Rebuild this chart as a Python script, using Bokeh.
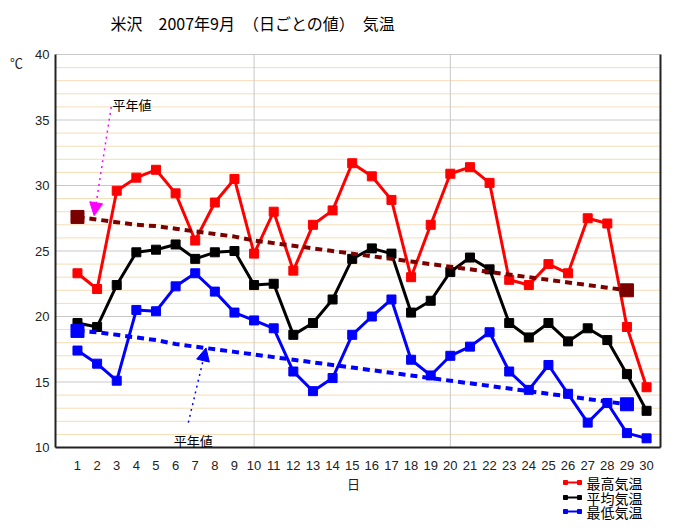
from bokeh.plotting import figure
from bokeh.models import Range1d, Label, Arrow, NormalHead
from bokeh.core.properties import value
from bokeh.embed import file_html
from bokeh.resources import INLINE

# ---- data ----
days = list(range(1, 31))
t_max = [23.3, 22.1, 29.6, 30.6, 31.2, 29.4, 25.8, 28.7, 30.5, 24.8,
         28.0, 23.5, 27.0, 28.1, 31.7, 30.7, 28.9, 23.0, 27.0, 30.9,
         31.4, 30.2, 22.8, 22.4, 24.0, 23.3, 27.5, 27.1, 19.2, 14.6]
t_avg = [19.5, 19.2, 22.4, 24.9, 25.1, 25.5, 24.4, 24.9, 25.0, 22.4,
         22.5, 18.6, 19.5, 21.3, 24.4, 25.2, 24.8, 20.3, 21.2, 23.4,
         24.5, 23.6, 19.5, 18.4, 19.5, 18.1, 19.1, 18.2, 15.6, 12.8]
t_min = [17.4, 16.4, 15.1, 20.5, 20.4, 22.3, 23.3, 21.9, 20.3, 19.7,
         19.1, 15.8, 14.3, 15.3, 18.6, 20.0, 21.3, 16.7, 15.5, 17.0,
         17.7, 18.8, 15.8, 14.4, 16.3, 14.1, 11.9, 13.4, 11.1, 10.7]
normal_days = list(range(1, 30))
normal_max = [27.6, 27.4, 27.2, 27.0, 26.9, 26.7, 26.5, 26.3, 26.1, 25.8,
              25.6, 25.4, 25.2, 25.0, 24.8, 24.6, 24.4, 24.2, 24.0, 23.8,
              23.6, 23.4, 23.2, 23.0, 22.8, 22.6, 22.4, 22.2, 22.0]
normal_min = [18.9, 18.8, 18.6, 18.4, 18.2, 17.9, 17.7, 17.5, 17.3, 17.1,
              16.9, 16.7, 16.5, 16.3, 16.1, 15.9, 15.7, 15.5, 15.3, 15.1,
              14.9, 14.7, 14.5, 14.3, 14.1, 13.9, 13.7, 13.5, 13.3]
y_ticks = [10, 15, 20, 25, 30, 35, 40]
y_minor = [v for v in range(11, 40) if v % 5 != 0]
x_grid = [10, 20]
series_names = ["最高気温", "平均気温", "最低気温"]
series_colors = ["#FF0000", "#000000", "#0000FF"]
title_text = "米沢　2007年9月　（日ごとの値）　気温"

FONT = "Noto Sans CJK JP"
NUMFONT = "Liberation Sans"

# plot-area extent (data units) and its pixel box on the 682x531 canvas
X0, X1, Y0, Y1 = -0.12, 30.71, 10, 40
PL, PR, PT, PB = 55, 660, 54, 447
W, H = 682, 531
PPX = (PR - PL) / (X1 - X0)
PPY = (PB - PT) / (Y1 - Y0)
xr = Range1d(X0 - PL / PPX, X1 + (W - PR) / PPX)
yr = Range1d(Y0 - (H - PB) / PPY, Y1 + PT / PPY)


def px_x(px):
    return xr.start + px / PPX


def px_y(py):
    return yr.end - py / PPY


p = figure(width=W, height=H, x_range=xr, y_range=yr,
           output_backend="svg", toolbar_location=None,
           x_axis_location=None, y_axis_location=None,
           min_border=0, background_fill_color="white",
           border_fill_color="white", outline_line_color=None)
p.grid.visible = False

# grid lines
p.segment(x0=[X0] * len(y_minor), x1=[X1] * len(y_minor), y0=y_minor, y1=y_minor,
          line_color="#F5DDB5", line_width=1)
p.segment(x0=[X0] * len(y_ticks), x1=[X1] * len(y_ticks), y0=y_ticks, y1=y_ticks,
          line_color="#C8C8C8", line_width=1)
p.segment(x0=x_grid, x1=x_grid, y0=[Y0] * len(x_grid), y1=[Y1] * len(x_grid),
          line_color="#C8C8C8", line_width=1)

# frame borders (left, bottom, right)
p.segment(x0=[X0, X0, X1], x1=[X0, X1, X1], y0=[Y0, Y0, Y0], y1=[Y1, Y0, Y1],
          line_color="#222222", line_width=2)

# series
for vals, col in zip([t_max, t_avg, t_min], series_colors):
    p.line(days, vals, line_color=col, line_width=3)
    p.scatter(days, vals, marker="square", size=9, color=col)

# normals
p.line(normal_days, normal_max, line_color="#7B0000", line_width=4, line_dash="7 5")
p.scatter([normal_days[0], normal_days[-1]], [normal_max[0], normal_max[-1]],
          marker="square", size=13, color="#7B0000")
p.line(normal_days, normal_min, line_color="#0000FF", line_width=4, line_dash="7 5")
p.scatter([normal_days[0], normal_days[-1]], [normal_min[0], normal_min[-1]],
          marker="square", size=13, color="#0000FF")

# x tick labels
p.text(x=days, y=[px_y(465)] * len(days), text=[str(d) for d in days],
       text_align="center", text_baseline="middle",
       text_font=value(NUMFONT), text_font_size="13px", text_color="#222222")
# y tick labels (bottom on the grid line)
p.text(x=[px_x(49)] * len(y_ticks), y=y_ticks, text=[str(v) for v in y_ticks],
       text_align="right", text_baseline="alphabetic",
       text_font=value(NUMFONT), text_font_size="13px", text_color="#222222")

# axis titles and chart title
p.add_layout(Label(x=px_x(353), y=px_y(483), text="日", text_align="center",
                   text_baseline="middle", text_font=FONT, text_font_size="13px",
                   text_color="#222222"))
p.add_layout(Label(x=px_x(16), y=px_y(62), text="℃", text_align="center",
                   text_baseline="middle", text_font=FONT, text_font_size="13px",
                   text_color="#222222"))
p.add_layout(Label(x=px_x(110), y=px_y(22), text=title_text, text_align="left",
                   text_baseline="middle", text_font=FONT, text_font_size="16px",
                   text_color="black"))

# annotations
p.add_layout(Arrow(end=NormalHead(size=13, fill_color="#FF00FF", line_color="#FF00FF"),
                   x_start=2.72, y_start=36.0, x_end=1.85, y_end=27.7,
                   line_color="#FF00FF", line_dash="dotted", line_width=1.5))
p.add_layout(Label(x=2.78, y=36.2, text="平年値", text_baseline="middle",
                   text_align="left", text_font=FONT, text_font_size="13px",
                   text_color="black"))
p.add_layout(Arrow(end=NormalHead(size=13, fill_color="#0000FF", line_color="#0000FF"),
                   x_start=6.65, y_start=11.9, x_end=7.55, y_end=17.6,
                   line_color="#0000FF", line_dash="dotted", line_width=1.5))
p.add_layout(Label(x=5.9, y=10.5, text="平年値", text_baseline="middle",
                   text_align="left", text_font=FONT, text_font_size="13px",
                   text_color="black"))

# legend (below the plot area, right side), drawn by hand
leg_rows = [px_y(482), px_y(497), px_y(511)]
lx0, lx1 = px_x(565), px_x(579)
p.segment(x0=[lx0] * 3, x1=[lx1] * 3, y0=leg_rows, y1=leg_rows,
          line_color=series_colors, line_width=2)
p.scatter(x=[lx0] * 3 + [lx1] * 3, y=leg_rows * 2, marker="square", size=4,
          color=series_colors * 2)
for name, yy in zip(series_names, leg_rows):
    p.add_layout(Label(x=px_x(586), y=yy, text=name, text_align="left",
                       text_baseline="middle", text_font=FONT,
                       text_font_size="14px", text_color="black"))

open("out.html", "w").write(file_html(p, INLINE))
